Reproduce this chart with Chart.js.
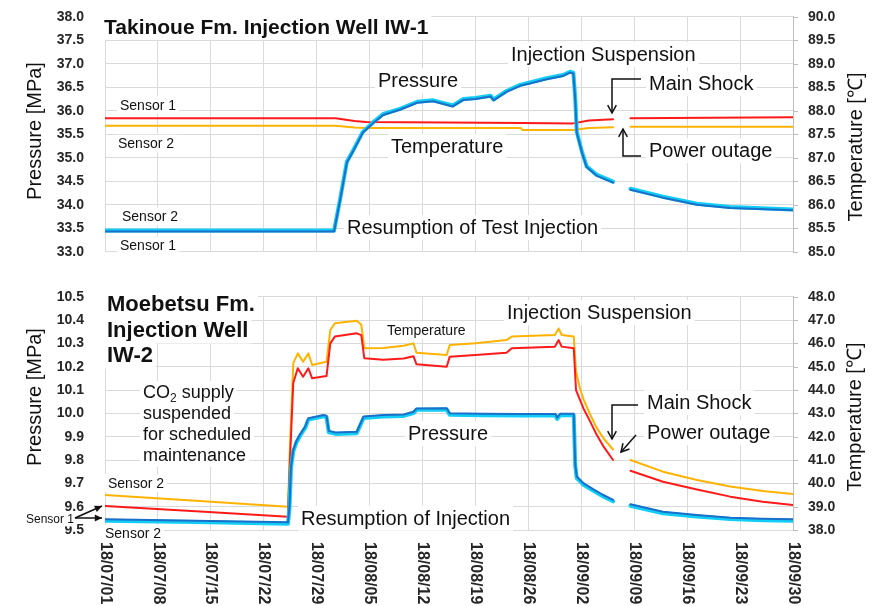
<!DOCTYPE html>
<html><head><meta charset="utf-8">
<script src="https://cdn.jsdelivr.net/npm/chart.js@4.4.1/dist/chart.umd.min.js"></script>
<style>
html,body{margin:0;padding:0;background:#fff;width:874px;height:606px;overflow:hidden}
.wrap{position:absolute;left:0;width:874px}
#w1{top:0;height:270px}
#w2{top:270px;height:336px}
canvas{display:block}
</style></head><body>
<div class="wrap" id="w1"><canvas id="c1" width="874" height="270"></canvas></div>
<div class="wrap" id="w2"><canvas id="c2" width="874" height="336"></canvas></div>
<script>
// ---------- DATA ----------
// x in days since 18/07/01
const xTickLabels = ['18/07/01','18/07/08','18/07/15','18/07/22','18/07/29','18/08/05','18/08/12','18/08/19','18/08/26','18/09/02','18/09/09','18/09/16','18/09/23','18/09/30'];

// Takinoue Fm. IW-1 pressure [MPa]
const topPressDays = [0, 10, 20, 30.3, 31.1, 32.0, 32.8, 34.1, 35.5, 36.8, 39.0, 41.3, 43.4, 46.0, 47.4, 49.0, 51.0, 51.4, 53.1, 54.9, 56.2, 58.4, 60.6, 61.5, 61.95, 62.2, 62.4, 63.1, 63.7, 65.0, 67.2, 68.3, 69.5, 73.8, 78.3, 82.7, 91];
const topPressS1 = [33.43, 33.43, 33.43, 33.43, 34.10, 34.90, 35.13, 35.53, 35.74, 35.91, 36.02, 36.17, 36.20, 36.09, 36.23, 36.25, 36.30, 36.22, 36.40, 36.53, 36.58, 36.67, 36.74, 36.81, 36.79, 36.23, 35.53, 35.10, 34.80, 34.62, 34.47, null, 34.32, 34.15, 34.00, 33.93, 33.88];
const topPressS2 = [33.45, 33.45, 33.45, 33.45, 34.12, 34.92, 35.15, 35.55, 35.76, 35.93, 36.04, 36.19, 36.22, 36.11, 36.25, 36.27, 36.32, 36.24, 36.42, 36.55, 36.60, 36.69, 36.76, 36.83, 36.81, 36.25, 35.55, 35.12, 34.82, 34.64, 34.49, null, 34.34, 34.17, 34.02, 33.95, 33.90];
// Takinoue Fm. IW-1 temperature [°C]
const topTempDays = [0, 15, 30.5, 33.0, 34.5, 45, 55.0, 55.2, 61.9, 64.0, 67.2, 68.3, 69.5, 91];
const topTempS1 = [87.84, 87.84, 87.84, 87.78, 87.76, 87.75, 87.74, 87.74, 87.73, 87.79, 87.82, null, 87.84, 87.86];
const topTempS2 = [87.68, 87.68, 87.68, 87.64, 87.63, 87.63, 87.63, 87.59, 87.59, 87.63, 87.65, null, 87.66, 87.66];

// Moebetsu Fm. IW-2 pressure [MPa]
const botPressDays = [0, 12, 24.2, 24.4, 24.6, 24.9, 25.3, 25.8, 26.5, 26.9, 28.9, 29.3, 29.6, 30.5, 33.3, 34.2, 36.8, 39.5, 40.8, 41.2, 45.2, 45.6, 50, 55, 59.6, 59.8, 60.2, 62, 62.2, 62.4, 63.3, 64.6, 65.9, 67.2, 68.3, 69.5, 73.8, 78.3, 82.7, 87, 91];
const botPressS1 = [9.546, 9.540, 9.533, 9.600, 9.771, 9.843, 9.880, 9.910, 9.945, 9.979, 9.993, 9.990, 9.925, 9.918, 9.921, 9.986, 9.993, 9.995, 10.007, 10.021, 10.022, 10.000, 9.998, 9.997, 9.997, 9.982, 9.998, 9.998, 9.780, 9.729, 9.700, 9.674, 9.650, 9.629, null, 9.610, 9.578, 9.564, 9.553, 9.548, 9.546];
const botPressS2 = [9.540, 9.534, 9.527, 9.594, 9.765, 9.837, 9.874, 9.904, 9.939, 9.973, 9.987, 9.984, 9.919, 9.912, 9.915, 9.980, 9.987, 9.989, 10.001, 10.015, 10.016, 9.994, 9.992, 9.991, 9.991, 9.976, 9.992, 9.992, 9.774, 9.723, 9.694, 9.668, 9.644, 9.623, null, 9.604, 9.572, 9.558, 9.547, 9.542, 9.540];
// Moebetsu Fm. IW-2 temperature [°C]
const botTempDays = [0, 12, 24.2, 24.4, 24.9, 25.5, 26.2, 26.9, 27.4, 29.3, 29.8, 30.4, 33.3, 33.9, 34.3, 36.8, 39.5, 40.8, 41.2, 45.2, 45.6, 49, 53.1, 53.8, 59.5, 60, 60.4, 62, 62.3, 62.8, 63.3, 64.1, 65.0, 66.0, 67.2, 68.3, 69.5, 73.8, 78.3, 82.7, 87, 91];
const botTempS1 = [39.03, 38.80, 38.57, 40.50, 44.30, 44.93, 44.57, 44.93, 44.50, 44.60, 46.00, 46.29, 46.43, 46.35, 45.36, 45.30, 45.35, 45.45, 45.10, 45.00, 45.43, 45.50, 45.60, 45.79, 45.86, 46.14, 45.86, 45.79, 44.00, 43.60, 43.20, 42.70, 42.10, 41.55, 41.00, null, 40.54, 40.07, 39.74, 39.43, 39.21, 39.07];
const botTempS2 = [39.50, 39.25, 39.00, 41.00, 45.14, 45.57, 45.21, 45.57, 45.07, 45.21, 46.57, 46.86, 46.97, 46.80, 45.79, 45.80, 45.90, 46.00, 45.60, 45.50, 45.93, 46.00, 46.14, 46.29, 46.36, 46.64, 46.36, 46.29, 44.80, 44.10, 43.60, 43.00, 42.40, 41.90, 41.45, null, 41.00, 40.50, 40.14, 39.86, 39.67, 39.54];

// ---------- STYLE ----------
const FONT = '"Liberation Sans", Arial, Helvetica, sans-serif';
const GRID = '#dadada';
const AXIS = '#bdbdbd';
const TICK = '#262626';
const C_BLUE = '#1a6fc9', C_CYAN = '#12cdf5', C_RED = '#ff1a1a', C_ORANGE = '#ffb300';

function pts(days, vals) { return days.map((d, i) => ({x: d, y: vals[i]})); }

function datasets(pd, p1, p2, td, t1, t2) {
  return [
    {data: pts(pd, p1), borderColor: C_BLUE, borderWidth: 2, yAxisID: 'y'},
    {data: pts(pd, p2), borderColor: C_CYAN, borderWidth: 4, yAxisID: 'y'},
    {data: pts(td, t1), borderColor: C_RED, borderWidth: 2, yAxisID: 'y1'},
    {data: pts(td, t2), borderColor: C_ORANGE, borderWidth: 2, yAxisID: 'y1'}
  ];
}

function options(geo, yMin, yMax, yStep, y1Min, y1Max, y1Step) {
  const tickFont = {family: FONT, size: 14, weight: 'bold'};
  return {
    responsive: false, animation: false, events: [],
    layout: {padding: {top: geo.padTop, left: 0, right: 0, bottom: 0}},
    plugins: {legend: {display: false}, tooltip: {enabled: false}},
    elements: {point: {radius: 0}, line: {tension: 0, borderJoinStyle: 'round', borderCapStyle: 'round', fill: false}},
    spanGaps: false,
    scales: {
      x: {type: 'linear', min: 0, max: 91,
          ticks: {display: false, stepSize: 7, padding: 0},
          grid: {color: GRID, drawTicks: false}, border: {display: false},
          afterFit(s) { s.height = geo.xh; }},
      y: {position: 'left', min: yMin, max: yMax,
          ticks: {stepSize: yStep, padding: 0, color: TICK, font: tickFont, callback: v => Number(v).toFixed(1)},
          grid: {color: GRID, drawTicks: true, tickLength: 21, tickColor: 'rgba(0,0,0,0)'}, border: {display: false},
          afterFit(s) { s.width = 105; }},
      y1: {position: 'right', min: y1Min, max: y1Max,
          ticks: {stepSize: y1Step, padding: 0, color: TICK, font: tickFont, callback: v => Number(v).toFixed(1)},
          grid: {drawOnChartArea: false, drawTicks: true, tickLength: 15, tickColor: 'rgba(0,0,0,0)'}, border: {display: true, color: AXIS},
          afterFit(s) { s.width = 81; }}
    }
  };
}

// place the plot area exactly where the reference has it
function fitArea(chart, geo) {
  for (let k = 0; k < 4; k++) {
    const a = chart.chartArea;
    const dt = geo.top - a.top, db = a.bottom - geo.bottom;
    if (Math.abs(dt) < 0.2 && Math.abs(db) < 0.2) break;
    geo.padTop += dt; geo.xh += db;
    chart.options.layout.padding.top = geo.padTop;
    chart.update('none');
  }
}

// ---------- OVERLAY (annotations) ----------
function drawText(ctx, oy, a) {
  const size = a.size || 20;
  const weight = a.bold ? 'bold ' : '';
  ctx.font = weight + size + 'px ' + FONT;
  const base = a.y - oy + 0.36 * size;
  if (a.sub) {
    const f2 = weight + Math.round(size * 0.65) + 'px ' + FONT;
    const w1 = ctx.measureText(a.sub[0]).width;
    ctx.font = f2; const w2 = ctx.measureText(a.sub[1]).width;
    ctx.font = weight + size + 'px ' + FONT; const w3 = ctx.measureText(a.sub[2]).width;
    const w = w1 + w2 + w3;
    ctx.fillStyle = '#fff';
    ctx.fillRect(a.x - 3, base - 0.95 * size, w + 6, 1.25 * size);
    ctx.fillStyle = a.color || '#111';
    ctx.textBaseline = 'alphabetic'; ctx.textAlign = 'left';
    ctx.fillText(a.sub[0], a.x, base);
    ctx.font = f2; ctx.fillText(a.sub[1], a.x + w1, base + size * 0.22);
    ctx.font = weight + size + 'px ' + FONT; ctx.fillText(a.sub[2], a.x + w1 + w2, base);
    return;
  }
  const w = ctx.measureText(a.t).width;
  if (a.bg !== false) {
    ctx.fillStyle = '#fff';
    ctx.fillRect(a.x - 3, base - 0.95 * size, w + 6, 1.25 * size);
  }
  ctx.fillStyle = a.color || '#111';
  ctx.textBaseline = 'alphabetic'; ctx.textAlign = 'left';
  ctx.fillText(a.t, a.x, base);
}

function drawArrow(ctx, oy, ar) {
  const p = ar.path.map(q => [q[0], q[1] - oy]);
  ctx.save();
  ctx.strokeStyle = '#111'; ctx.fillStyle = '#111'; ctx.lineWidth = 1.5;
  ctx.lineJoin = 'miter';
  ctx.beginPath(); ctx.moveTo(p[0][0], p[0][1]);
  for (let i = 1; i < p.length; i++) ctx.lineTo(p[i][0], p[i][1]);
  ctx.stroke();
  const a = p[p.length - 2], b = p[p.length - 1];
  const ang = Math.atan2(b[1] - a[1], b[0] - a[0]);
  const L = ar.head || 9, sp = ar.filled ? 0.45 : 0.5;
  const l1 = [b[0] - L * Math.cos(ang - sp), b[1] - L * Math.sin(ang - sp)];
  const l2 = [b[0] - L * Math.cos(ang + sp), b[1] - L * Math.sin(ang + sp)];
  ctx.beginPath();
  if (ar.filled) {
    ctx.moveTo(b[0], b[1]); ctx.lineTo(l1[0], l1[1]); ctx.lineTo(l2[0], l2[1]); ctx.closePath(); ctx.fill();
  } else {
    ctx.moveTo(l1[0], l1[1]); ctx.lineTo(b[0], b[1]); ctx.lineTo(l2[0], l2[1]); ctx.stroke();
  }
  ctx.restore();
}

function rotText(ctx, t, x, y, ang, font, color, align) {
  ctx.save();
  ctx.translate(x, y); ctx.rotate(ang);
  ctx.font = font; ctx.fillStyle = color; ctx.textAlign = align; ctx.textBaseline = 'middle';
  ctx.fillText(t, 0, 0);
  ctx.restore();
}

function overlay(oy, texts, arrows, titles, showX) {
  return {
    id: 'overlay',
    beforeDatasetsDraw(chart) {
      const ctx = chart.ctx; ctx.save();
      texts.forEach(a => drawText(ctx, oy, a));
      ctx.restore();
    },
    afterDatasetsDraw(chart) {
      const ctx = chart.ctx;
      arrows.forEach(ar => drawArrow(ctx, oy, ar));
    },
    afterDraw(chart) {
      const ctx = chart.ctx;
      // small outward tick marks on the right axis
      const r = chart.scales.y1;
      ctx.save(); ctx.strokeStyle = AXIS; ctx.lineWidth = 1;
      r.ticks.forEach(tk => {
        const py = Math.round(r.getPixelForValue(tk.value)) + 0.5;
        ctx.beginPath(); ctx.moveTo(r.left, py); ctx.lineTo(r.left + 5, py); ctx.stroke();
      });
      ctx.restore();
      rotText(ctx, 'Pressure [MPa]', titles.lx, titles.ly - oy, -Math.PI / 2, '20px ' + FONT, '#111', 'center');
      rotText(ctx, 'Temperature [\u2103]', titles.rx, titles.ry - oy, -Math.PI / 2, '20px ' + FONT, '#111', 'center');
      if (showX) {
        const xs = chart.scales.x;
        xs.ticks.forEach((tk, i) => {
          const px = xs.getPixelForValue(tk.value);
          rotText(ctx, xTickLabels[i], px, chart.chartArea.bottom + 12, Math.PI / 2, 'bold 16px ' + FONT, TICK, 'left');
        });
      }
    }
  };
}

// ---------- TOP CHART ----------
const topTexts = [
  {t: 'Takinoue Fm. Injection Well IW-1', x: 104, y: 26, size: 21, bold: true},
  {t: 'Injection Suspension', x: 511, y: 54},
  {t: 'Pressure', x: 378, y: 80},
  {t: 'Main Shock', x: 649, y: 83},
  {t: 'Temperature', x: 391, y: 146},
  {t: 'Power outage', x: 649, y: 150},
  {t: 'Resumption of Test Injection', x: 347, y: 227},
  {t: 'Sensor 1', x: 120, y: 104.5, size: 14},
  {t: 'Sensor 2', x: 118, y: 143, size: 14},
  {t: 'Sensor 2', x: 122, y: 216, size: 14},
  {t: 'Sensor 1', x: 120, y: 245, size: 14}
];
const topArrows = [
  {path: [[641, 79], [612, 79], [612, 113]]},
  {path: [[641, 156], [623, 156], [623, 129]]}
];
const geoTop = {padTop: 17, xh: 18, top: 16.7, bottom: 251.7};
const chartTop = new Chart(document.getElementById('c1'), {
  type: 'line',
  data: {datasets: datasets(topPressDays, topPressS1, topPressS2, topTempDays, topTempS1, topTempS2)},
  options: options(geoTop, 33, 38, 0.5, 85, 90, 0.5),
  plugins: [overlay(0, topTexts, topArrows, {lx: 35, ly: 131, rx: 856, ry: 147}, false)]
});
fitArea(chartTop, geoTop);

// ---------- BOTTOM CHART ----------
const botTexts = [
  {t: 'Moebetsu Fm.', x: 107, y: 303.5, size: 22, bold: true},
  {t: 'Injection Well', x: 107, y: 329, size: 22, bold: true},
  {t: 'IW-2', x: 107, y: 354, size: 22, bold: true},
  {sub: ['CO', '2', ' supply'], x: 143, y: 391.5, size: 18},
  {t: 'suspended', x: 143, y: 412.5, size: 18},
  {t: 'for scheduled', x: 143, y: 434, size: 18},
  {t: 'maintenance', x: 143, y: 455, size: 18},
  {t: 'Injection Suspension', x: 507, y: 312},
  {t: 'Temperature', x: 387, y: 330, size: 14},
  {t: 'Main Shock', x: 647, y: 402},
  {t: 'Power outage', x: 647, y: 432},
  {t: 'Pressure', x: 408, y: 433},
  {t: 'Sensor 2', x: 108, y: 482.5, size: 14},
  {t: 'Resumption of Injection', x: 301, y: 517.5},
  {t: 'Sensor 1', x: 26, y: 518.5, size: 12},
  {t: 'Sensor 2', x: 105, y: 533, size: 14}
];
const botArrows = [
  {path: [[638, 405], [612, 405], [612, 439]]},
  {path: [[636, 435], [621, 452]]},
  {path: [[75, 518], [102, 506]], filled: true, head: 8},
  {path: [[75, 518], [102, 518]], filled: true, head: 8}
];
const geoBot = {padTop: 26.7, xh: 76, top: 296.7 - 270, bottom: 530 - 270};
const chartBot = new Chart(document.getElementById('c2'), {
  type: 'line',
  data: {datasets: datasets(botPressDays, botPressS1, botPressS2, botTempDays, botTempS1, botTempS2)},
  options: options(geoBot, 9.5, 10.5, 0.1, 38, 48, 1),
  plugins: [overlay(270, botTexts, botArrows, {lx: 35, ly: 397, rx: 855, ry: 417}, true)]
});
fitArea(chartBot, geoBot);
</script>
</body></html>
